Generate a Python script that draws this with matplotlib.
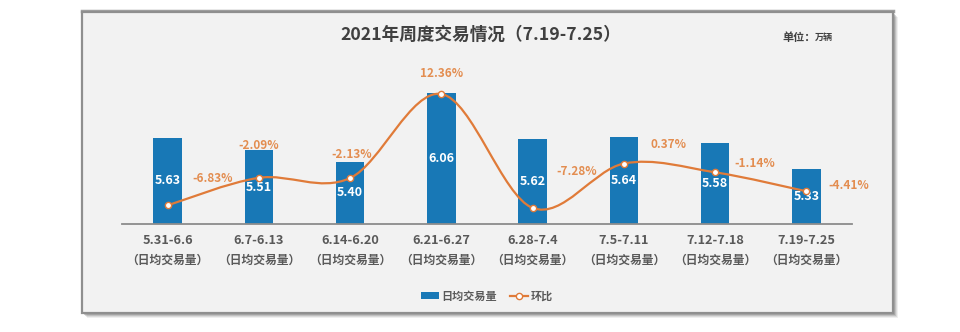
import numpy as np
import matplotlib
matplotlib.use('Agg')
import matplotlib.pyplot as plt
from matplotlib.patches import Rectangle, Patch
from matplotlib.lines import Line2D
from matplotlib.path import Path
from matplotlib.patches import PathPatch

plt.rcParams['font.family'] = ['Noto Sans CJK SC', 'DejaVu Sans']

weeks = ['5.31-6.6', '6.7-6.13', '6.14-6.20', '6.21-6.27',
         '6.28-7.4', '7.5-7.11', '7.12-7.18', '7.19-7.25']
volume = [5.63, 5.51, 5.40, 6.06, 5.62, 5.64, 5.58, 5.33]
mom = [-6.83, -2.09, -2.13, 12.36, -7.28, 0.37, -1.14, -4.41]
sub_label = '（日均交易量）'

# label offsets for the 环比 labels, in pixels (dx, dy)
mom_offsets = [(45, 27), (0, 32), (2, 24), (0, 20),
               (44, 36), (45, 19), (40, 9), (42, 6)]

BLUE = '#1878b6'
ORANGE = '#e07b39'
LABEL_ORANGE = '#e38d50'
GREY_TXT = '#595959'

W, H = 960, 332
fig = plt.figure(figsize=(W / 100, H / 100), dpi=100)
fig.patch.set_facecolor('white')


def fx(px):
    return px / W


def fy(py):
    return 1 - py / H


# panel with shadow
px0, py0, px1, py1 = 82, 12, 893, 313
for i, a in enumerate([0.12, 0.18, 0.28, 0.4]):
    off = 5 - i
    fig.patches.append(Rectangle((fx(px0 + off), fy(py1 + off)), fx(px1 - px0), (py1 - py0) / H,
                                 transform=fig.transFigure, facecolor='#808080',
                                 edgecolor='none', alpha=a, zorder=0))
fig.patches.append(Rectangle((fx(px0), fy(py1)), fx(px1 - px0), (py1 - py0) / H,
                             transform=fig.transFigure, facecolor='#f2f2f2',
                             edgecolor='#8f8f8f', linewidth=1.6, zorder=1))
# darker top edge
fig.lines.append(Line2D([fx(px0), fx(px1)], [fy(py0 - 1), fy(py0 - 1)],
                        transform=fig.transFigure, color='#a0a0a0', linewidth=2.5, zorder=1))

# axes
ax_top, ax_base = 60, 224
ax = fig.add_axes([fx(122), fy(ax_base), fx(852 - 122), (ax_base - ax_top) / H], zorder=2)
ax.set_facecolor('none')
x = np.arange(len(weeks))
bars = ax.bar(x, volume, width=0.31, color=BLUE, zorder=2)
ax.set_xlim(-0.5, len(weeks) - 0.5)
ax.set_ylim(4.802, 6.377)
for s in ['top', 'right', 'left']:
    ax.spines[s].set_visible(False)
ax.spines['bottom'].set_color('#8c8c8c')
ax.spines['bottom'].set_linewidth(1.3)
ax.set_yticks([])
ax.set_xticks([])

for xi, v in zip(x, volume):
    ax.text(xi, (4.802 + v) / 2, f'{v:.2f}', ha='center', va='center',
            color='white', fontsize=9, fontweight='bold', zorder=3)

trans = ax.get_xaxis_transform()
for xi, w in zip(x, weeks):
    ax.text(xi, -17 / (ax_base - ax_top), w, transform=trans, ha='center', va='center',
            fontsize=9.2, color=GREY_TXT, fontweight='semibold')
    ax.text(xi, -36 / (ax_base - ax_top), sub_label, transform=trans, ha='center', va='center',
            fontsize=8.5, color=GREY_TXT, fontweight='semibold')

# smooth line on twin axis
ax2 = ax.twinx()
ax2.set_ylim(-10.05, 18.22)
ax2.axis('off')
pts = np.column_stack([x, mom]).astype(float)
n = len(pts)
verts = [pts[0]]
codes = [Path.MOVETO]
for i in range(n - 1):
    p0 = pts[max(i - 1, 0)]
    p1 = pts[i]
    p2 = pts[i + 1]
    p3 = pts[min(i + 2, n - 1)]
    verts += [p1 + (p2 - p0) / 6, p2 - (p3 - p1) / 6, p2]
    codes += [Path.CURVE4] * 3
ax2.add_patch(PathPatch(Path(verts, codes), facecolor='none', edgecolor=ORANGE,
                        linewidth=1.6, zorder=3))
ax2.plot(x, mom, linestyle='none', marker='o', markersize=4.5,
         markerfacecolor='white', markeredgecolor=ORANGE, markeredgewidth=1, zorder=4)
for xi, m, (dx, dy) in zip(x, mom, mom_offsets):
    ax2.annotate(f'{m:.2f}%', (xi, m), xytext=(dx * 0.72, dy * 0.72),
                 textcoords='offset points', ha='center', va='center',
                 fontsize=8.5, color=LABEL_ORANGE, fontweight='semibold', zorder=5)

# title and unit
fig.text(fx(481), fy(35), '2021年周度交易情况（7.19-7.25）', ha='center', va='center',
         fontsize=12.7, fontweight='bold', color='#404040')
fig.text(fx(782), fy(37), '单位：', ha='left', va='center',
         fontsize=8, fontweight='bold', color='#404040')
fig.text(fx(815), fy(37.5), '万辆', ha='left', va='center',
         fontsize=6.5, fontweight='bold', color='#404040')

# legend
handles = [Patch(facecolor=BLUE, edgecolor='none'),
           Line2D([], [], color=ORANGE, linewidth=1.6, marker='o', markersize=4.5,
                  markerfacecolor='white', markeredgecolor=ORANGE)]
leg = fig.legend(handles, ['日均交易量', '环比'], loc='center',
                 bbox_to_anchor=(fx(487), fy(296)), ncol=2, frameon=False,
                 fontsize=8, handlelength=1.6, handleheight=0.5, handletextpad=0.2,
                 columnspacing=1.2)
for t in leg.get_texts():
    t.set_color(GREY_TXT)
    t.set_fontweight('semibold')

fig.savefig('out.png', dpi=100)
